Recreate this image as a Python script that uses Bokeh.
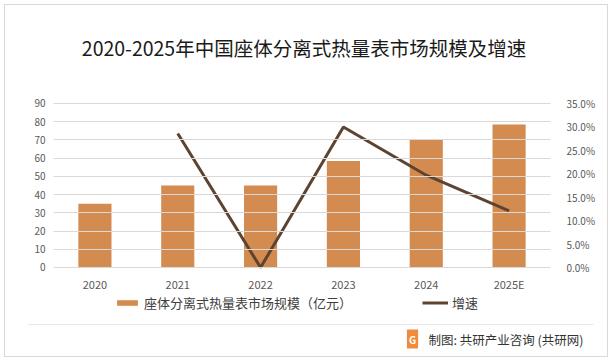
from bokeh.plotting import figure
from bokeh.models import (Range1d, LinearAxis, CategoricalAxis, FixedTicker, PrintfTickFormatter,
                          Legend, LegendItem, Label, BoxAnnotation, FactorRange)
from bokeh.embed import file_html
from bokeh.resources import INLINE

years = ["2020", "2021", "2022", "2023", "2024", "2025E"]
market = [35, 45, 45, 58.5, 70, 78.5]
growth_years = ["2021", "2022", "2023", "2024", "2025E"]
growth = [28.6, 0.0, 30.0, 19.7, 12.1]
left_ticks = [0, 10, 20, 30, 40, 50, 60, 70, 80, 90]
right_ticks = [0, 5, 10, 15, 20, 25, 30, 35]

title_text = "2020-2025年中国座体分离式热量表市场规模及增速"
bar_label = "座体分离式热量表市场规模（亿元）"
line_label = "增速"
footer_text = "制图: 共研产业咨询 (共研网)"

FONT = "Noto Sans CJK SC"
BAR_COLOR = "#D38B4F"
LINE_COLOR = "#5E4330"
GRID = "#D9D9D9"
TICK = "#595959"

p = figure(width=612, height=361,
           x_range=FactorRange(*years, range_padding=0.19317),
           y_range=Range1d(-51.59, 146.52), output_backend="svg", toolbar_location=None,
           min_border_left=5, min_border_right=14, min_border_top=0, min_border_bottom=0,
           x_axis_location=None, y_axis_location=None)
p.outline_line_color = None
p.background_fill_alpha = 0
p.border_fill_alpha = 0
p.styles = {"outline": "1px solid #D9D9D9", "outline-offset": "-5px"}
p.xgrid.grid_line_color = None
p.ygrid.grid_line_color = None

p.extra_y_ranges = {"g": Range1d(-20.06, 56.98)}

bars = p.vbar(x=years, top=market, width=0.4, color=BAR_COLOR, line_color=None)
line = p.line(x=growth_years, y=growth, y_range_name="g", color=LINE_COLOR, line_width=3)

# left axis (its ticks drawn inward act as the horizontal grid lines)
la = LinearAxis(ticker=FixedTicker(ticks=left_ticks), fixed_location=0)
la.axis_line_color = None
la.major_tick_in = 497
la.major_tick_out = 0
la.major_tick_line_color = GRID
la.minor_tick_line_color = None
la.major_label_standoff = 8
la.major_label_text_font = FONT
la.major_label_text_font_size = "10px"
la.major_label_text_color = TICK
p.add_layout(la, "left")

ra = LinearAxis(y_range_name="g", ticker=FixedTicker(ticks=right_ticks),
                formatter=PrintfTickFormatter(format="%.1f%%"), fixed_location=6)
ra.axis_line_color = None
ra.major_tick_line_color = None
ra.minor_tick_line_color = None
ra.major_label_standoff = 10
ra.major_label_text_font = FONT
ra.major_label_text_font_size = "10px"
ra.major_label_text_color = TICK
p.add_layout(ra, "right")

xa = CategoricalAxis(fixed_location=0)
xa.axis_line_color = None
xa.major_tick_line_color = None
xa.minor_tick_line_color = None
xa.major_label_standoff = 3
xa.major_label_text_font = FONT
xa.major_label_text_font_size = "11px"
xa.major_label_text_color = TICK
p.add_layout(xa, "below")

legend = Legend(items=[LegendItem(label=bar_label, renderers=[bars]),
                       LegendItem(label=line_label, renderers=[line])],
                orientation="horizontal", location=(109, 49),
                label_text_font=FONT, label_text_font_size="13px", label_text_color="#404040",
                glyph_width=26, glyph_height=7, label_standoff=4, spacing=70,
                border_line_color=None, background_fill_alpha=0, margin=0, padding=4)
p.add_layout(legend, "center")

# title
p.add_layout(Label(x=298.5, y=314, x_units="screen", y_units="screen", text=title_text,
                   text_align="center", text_baseline="middle", text_font=FONT,
                   text_font_size="19.5px", text_color="#1A1A1A"))
# separator
p.add_layout(BoxAnnotation(left=22, right=588, top=37.5, bottom=36.5,
                           left_units="screen", right_units="screen", top_units="screen",
                           bottom_units="screen", fill_color="#E8E8E8", fill_alpha=1,
                           line_color=None))
# footer
p.add_layout(Label(x=407, y=22.5, x_units="screen", y_units="screen", text="G",
                   text_align="center", text_baseline="middle", text_font=FONT,
                   text_font_size="10px", text_font_style="bold", text_color="white",
                   background_fill_color="#F08A3C", padding=2))
p.add_layout(Label(x=423, y=22.5, x_units="screen", y_units="screen", text=footer_text,
                   text_align="left", text_baseline="middle", text_font=FONT,
                   text_font_size="12.5px", text_color="#333333"))

open("out.html", "w").write(file_html(p, INLINE))
